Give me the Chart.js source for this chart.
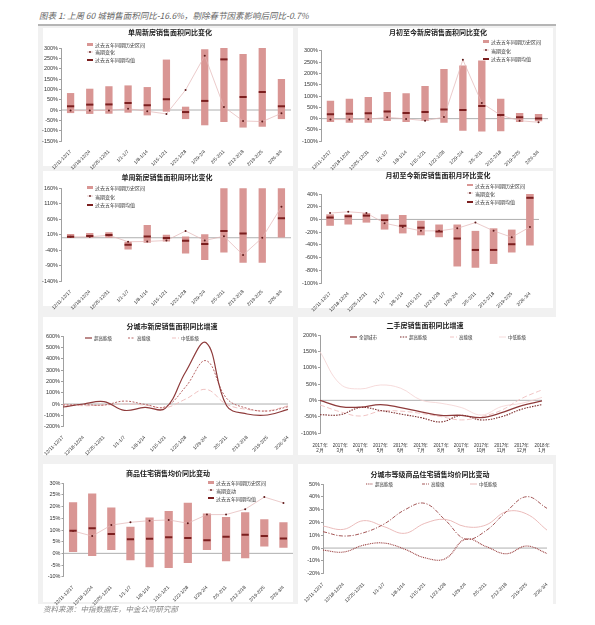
<!DOCTYPE html>
<html>
<head>
<meta charset="utf-8">
<script src="https://cdn.jsdelivr.net/npm/chart.js@4.4.1/dist/chart.umd.min.js"></script>
<style>
body{margin:0;width:595px;height:625px;background:#fff;position:relative;overflow:hidden;font-family:"Noto Sans CJK SC",sans-serif;}
#head{position:absolute;left:39px;top:9px;font-size:8.5px;font-style:italic;color:#666;white-space:nowrap}
#rule{position:absolute;left:38px;top:24px;width:518px;height:1.5px;background:#b5b5b5}
#frame{position:absolute;left:38px;top:26px;width:518px;height:578px;background:#f1f1f1}
#foot{position:absolute;left:43px;top:603px;font-size:7.5px;font-style:italic;color:#888;white-space:nowrap}
.panel{position:absolute;background:#fff}
canvas{position:absolute}
.ttl{position:absolute;font-size:7px;font-weight:bold;color:#222;white-space:nowrap;transform:translate(-50%,-50%)}
.lg{position:absolute;height:6px;display:flex;align-items:center;font-size:5px;color:#333;white-space:nowrap;transform:translateY(-50%)}
.lg.s{font-size:4.5px}
.lg span{margin-left:2px}
.sr{width:6px;height:2.5px;background:#d99694}
.sm{width:6px;height:2px;background:#7b1f1f}
</style>
</head>
<body>
<div id="head">图表 1: 上周 60 城销售面积同比-16.6%，剔除春节因素影响后同比-0.7%</div>
<div id="frame"></div>
<div id="rule"></div>

<div class="panel" style="left:43px;top:28px;width:250px;height:138px"></div>
<div class="panel" style="left:43px;top:171px;width:250px;height:135px"></div>
<div class="panel" style="left:298px;top:28px;width:255px;height:140px"></div>
<div class="panel" style="left:298px;top:171px;width:255px;height:137px"></div>
<div class="panel" style="left:43px;top:317px;width:250px;height:138px"></div>
<div class="panel" style="left:298px;top:317px;width:287px;height:138px"></div>
<div class="panel" style="left:43px;top:464px;width:250px;height:138px"></div>
<div class="panel" style="left:298px;top:464px;width:255px;height:140px"></div>

<canvas id="c1" width="258" height="143" style="left:35px;top:28px"></canvas>
<canvas id="c2" width="258" height="140" style="left:35px;top:171px"></canvas>
<canvas id="c3" width="263" height="143" style="left:290px;top:28px"></canvas>
<canvas id="c4" width="263" height="142" style="left:290px;top:171px"></canvas>
<canvas id="c5" width="258" height="143" style="left:35px;top:317px"></canvas>
<canvas id="c6" width="287" height="138" style="left:298px;top:317px"></canvas>
<canvas id="c7" width="258" height="143" style="left:35px;top:464px"></canvas>
<canvas id="c8" width="263" height="142" style="left:290px;top:464px"></canvas>

<div class="ttl" style="left:170px;top:32px">单周新房销售面积同比变化</div>
<div class="ttl" style="left:167px;top:177px">单周新房销售面积周环比变化</div>
<div class="ttl" style="left:438px;top:32px">月初至今新房销售面积同比变化</div>
<div class="ttl" style="left:438px;top:175px">月初至今新房销售面积月环比变化</div>
<div class="ttl" style="left:172px;top:326px">分城市新房销售面积同比增速</div>
<div class="ttl" style="left:425px;top:325px">二手房销售面积同比增速</div>
<div class="ttl" style="left:168px;top:473px">商品住宅销售均价同比变动</div>
<div class="ttl" style="left:430px;top:474px">分城市等级商品住宅销售均价同比变动</div>

<!-- range legends -->
<div class="lg" style="left:87px;top:44.3px"><i class="sr"></i><span>过去五年同期历史区间</span></div>
<div class="lg" style="left:87px;top:51.7px"><svg width="6" height="4"><line x1="0" y1="2" x2="6" y2="2" stroke="#e3b5b5" stroke-width="0.7"/><circle cx="3" cy="2" r="0.9" fill="#5e1a1a"/></svg><span>当期变化</span></div>
<div class="lg" style="left:87px;top:59.7px"><i class="sm"></i><span>过去五年同期均值</span></div>

<div class="lg" style="left:87px;top:187.3px"><i class="sr"></i><span>过去五年同期历史区间</span></div>
<div class="lg" style="left:87px;top:196px"><svg width="6" height="4"><line x1="0" y1="2" x2="6" y2="2" stroke="#e3b5b5" stroke-width="0.7"/><circle cx="3" cy="2" r="0.9" fill="#5e1a1a"/></svg><span>当期变化</span></div>
<div class="lg" style="left:87px;top:204.7px"><i class="sm"></i><span>过去五年同期均值</span></div>

<div class="lg" style="left:483px;top:41.7px"><i class="sr"></i><span>过去五年同期历史区间</span></div>
<div class="lg" style="left:483px;top:50px"><svg width="6" height="4"><line x1="0" y1="2" x2="6" y2="2" stroke="#e3b5b5" stroke-width="0.7"/><circle cx="3" cy="2" r="0.9" fill="#5e1a1a"/></svg><span>当期变化</span></div>
<div class="lg" style="left:483px;top:58.7px"><i class="sm"></i><span>过去五年同期均值</span></div>

<div class="lg" style="left:467px;top:185px"><i class="sr"></i><span>过去五年同期历史区间</span></div>
<div class="lg" style="left:467px;top:193.3px"><svg width="6" height="4"><line x1="0" y1="2" x2="6" y2="2" stroke="#e3b5b5" stroke-width="0.7"/><circle cx="3" cy="2" r="0.9" fill="#5e1a1a"/></svg><span>当期变化</span></div>
<div class="lg" style="left:467px;top:201.7px"><i class="sm"></i><span>过去五年同期均值</span></div>

<div class="lg" style="left:208px;top:482.7px"><i class="sr"></i><span>过去五年同期历史区间</span></div>
<div class="lg" style="left:208px;top:490.3px"><svg width="6" height="4"><line x1="0" y1="2" x2="6" y2="2" stroke="#e3b5b5" stroke-width="0.7"/><circle cx="3" cy="2" r="0.9" fill="#5e1a1a"/></svg><span>当期变动</span></div>
<div class="lg" style="left:208px;top:498.3px"><i class="sm"></i><span>过去五年同期均值</span></div>

<!-- line legends -->
<div class="lg s" style="left:85px;top:338.3px"><svg width="7" height="4"><line x1="0" y1="2" x2="7" y2="2" stroke="#8e3b3b" stroke-width="1.2"/></svg><span>超高能级</span></div>
<div class="lg s" style="left:128px;top:338.3px"><svg width="7" height="4"><line x1="0" y1="2" x2="7" y2="2" stroke="#b76565" stroke-width="1" stroke-dasharray="2,1.5"/></svg><span>高能级</span></div>
<div class="lg s" style="left:172px;top:338.3px"><svg width="7" height="4"><line x1="0" y1="2" x2="7" y2="2" stroke="#efc1c0" stroke-width="1" stroke-dasharray="4,2"/></svg><span>中低能级</span></div>

<div class="lg s" style="left:350px;top:336.7px"><svg width="7" height="4"><line x1="0" y1="2" x2="7" y2="2" stroke="#8e3b3b" stroke-width="1.3"/></svg><span>全部城市</span></div>
<div class="lg s" style="left:400px;top:336.7px"><svg width="7" height="4"><line x1="0" y1="2" x2="7" y2="2" stroke="#7a2a2a" stroke-width="1.1" stroke-dasharray="1.5,1.2"/></svg><span>超高能级</span></div>
<div class="lg s" style="left:450px;top:336.7px"><svg width="7" height="4"><line x1="0" y1="2" x2="7" y2="2" stroke="#f0c4c4" stroke-width="1" stroke-dasharray="4,2"/></svg><span>高能级</span></div>
<div class="lg s" style="left:499px;top:336.7px"><svg width="7" height="4"><line x1="0" y1="2" x2="7" y2="2" stroke="#f4d2d2" stroke-width="0.8"/></svg><span>中低能级</span></div>

<div class="lg s" style="left:366px;top:484px"><svg width="7" height="4"><line x1="0" y1="2" x2="7" y2="2" stroke="#9c4343" stroke-width="1.1" stroke-dasharray="1,0.8"/></svg><span>超高能级</span></div>
<div class="lg s" style="left:422px;top:484px"><svg width="7" height="4"><line x1="0" y1="2" x2="7" y2="2" stroke="#a45858" stroke-width="1" stroke-dasharray="3,1,1,1"/></svg><span>高能级</span></div>
<div class="lg s" style="left:470px;top:484px"><svg width="7" height="4"><line x1="0" y1="2" x2="7" y2="2" stroke="#ebbcbb" stroke-width="1"/></svg><span>中低能级</span></div>

<div id="foot">资料来源：中指数据库，中金公司研究部</div>

<script>
// category labels
const weekLabels = ['12/11-12/17', '12/18-12/24', '12/25-12/31', '1/1-1/7', '1/8-1/14', '1/15-1/21',
    '1/22-1/28', '1/29-2/4', '2/5-2/11', '2/12-2/18', '2/19-2/25', '2/26-3/4'];
const monthLabels = [['2017年', '2月'], ['2017年', '3月'], ['2017年', '4月'], ['2017年', '5月'],
    ['2017年', '6月'], ['2017年', '7月'], ['2017年', '8月'], ['2017年', '9月'],
    ['2017年', '10月'], ['2017年', '11月'], ['2017年', '12月'], ['2018年', '1月']];

// 单周新房销售面积同比变化 (%)
const wkYoyLow = [-15, -19, -18, -13, -26, -8, -44, -74, -58, -85, -81, -44];
const wkYoyHigh = [82, 103, 115, 119, 111, 244, 16, 294, 330, 271, 330, 150];
const wkYoyMean = [18, 26, 27, 34, 23, 52, -10, 44, 245, 63, 87, 18];
const wkYoyNow = [-3, -3, -2, 6, -6, -19, 97, 263, 15, -53, -56, -16];

// 单周新房销售面积周环比变化 (%)
const wkWowLow = [-1, 0, 0, -38, -16, -12, -51, -72, -48, -81, -81, 1];
const wkWowHigh = [12, 15, 18, -13, 41, 10, 4, 11, 175, 175, 175, 175];
const wkWowMean = [3, 6, 9, -23, 4, -1, -10, -20, 22, 14, null, 63];
const wkWowNow = [3, 3, 8, -13, -12, -9, 22, -9, 5, -56, 0, 100];

// 月初至今新房销售面积同比变化 (%)
const mtdYoyLow = [-15, -18, -18, -10, -15, -10, -18, -53, -57, -56, -15, -12];
const mtdYoyHigh = [79, 88, 96, 118, 112, 144, 219, 235, 257, 88, 25, 21];
const mtdYoyMean = [19, 22, 24, 32, 25, 29, 40, 38, 56, 16, 6, 1];
const mtdYoyNow = [-4, -4, -3, 6, -1, -9, 7, 260, 69, 15, -9, -16];

// 月初至今新房销售面积月环比变化 (%)
const mtdMomLow = [-10, -8, -5, -16, -22, -25, -28, -74, -76, -70, -52, -41];
const mtdMomHigh = [8, 8, 10, 8, 7, -2, -8, -8, -18, -14, -16, 45];
const mtdMomMean = [3, 5, 6, -1, -10, -13, -19, -30, -48, -48, -39, 34];
const mtdMomNow = [10, 12, 10, -6, -12, -18, -18, -14, -5, -18, -28, -12];

// 分城市新房销售面积同比增速 (%)
const newTier1 = [-26, 0, 21, -56, -29, -38, 285, 541, -15, -88, -97, -47];
const newTier2 = [-9, -6, -9, 26, -3, -24, 153, 382, 50, -38, -62, -24];
const newTier3 = [-3, -15, -9, 0, -9, -32, 44, 129, -3, -47, -59, -15];

// 二手房销售面积同比增速 (%)
const usedAll = [0, -19, -21, -13, -22, -35, -46, -46, -53, -38, -16, -2];
const usedTier1 = [-44, -44, -22, -31, -42, -53, -66, -46, -60, -50, -27, -13];
const usedTier2 = [-14, -35, -48, -33, -33, -40, -50, -60, -50, -30, 6, 32];
const usedTier3 = [149, 50, 35, 47, 37, 1, -9, -22, -45, -19, -9, 9];

// 商品住宅销售均价同比变动 (%)
const priceLow = [0.6, -1.1, 1.4, -3, -6, -6.3, -4.1, 1.4, -3.4, -2.1, 2.9, 2.4];
const priceHigh = [21.9, 25.6, 19.6, 11.4, 15.3, 18.1, 21.7, 17.1, 15.6, 17.6, 14.6, 13.3];
const priceMean = [9.7, 10.7, 8.3, 6, 6.3, 6.9, 6.6, 5.6, 7.1, 8, 7.4, 6.4];
const priceNow = [9.6, 7.4, 12.1, 13.3, 14, 14.3, 12.9, 16.6, 16.6, 18.9, 24.1, 21.6];

// 分城市等级商品住宅销售均价同比变动 (%)
const priceTier1 = [-1.6, -3.1, 2.3, 3.9, -0.8, -7.6, -8.3, 7, 1.3, -4.4, 1.6, -4.2];
const priceTier2 = [12.8, 9.4, 12, 18.8, 29.7, 34.9, 21.9, 7, 13.5, 28.4, 40.1, 31];
const priceTier3 = [17.2, 14.6, 21.4, 16.7, 11.5, 19.3, 22.4, 16.7, 18, 28.4, 26.6, 14];

const tickFont = 'Liberation Sans';

// horizontal line at 0 through the y scale
const zeroLine = {
    id: 'zeroLine',
    beforeDatasetsDraw(chart) {
        const y = chart.scales.y.getPixelForValue(0);
        const { left, right } = chart.chartArea;
        const ctx = chart.ctx;
        ctx.save();
        ctx.strokeStyle = '#9a9a9a';
        ctx.lineWidth = 0.8;
        ctx.beginPath();
        ctx.moveTo(left, y);
        ctx.lineTo(right, y);
        ctx.stroke();
        ctx.restore();
    }
};

function baseOptions(lay, yMin, yMax, step, offset, xTicks) {
    return {
        responsive: false,
        animation: false,
        layout: { autoPadding: false, padding: { left: 0, right: lay.r, top: lay.t, bottom: 0 } },
        plugins: { legend: { display: false }, title: { display: false }, tooltip: { enabled: false } },
        scales: {
            x: {
                offset: offset,
                grid: { display: false },
                border: { display: false },
                ticks: Object.assign({
                    autoSkip: false, maxRotation: 45, minRotation: 45, padding: 0,
                    font: { size: 4.8, family: tickFont }, color: '#333'
                }, xTicks || {}),
                afterFit: s => { s.height = lay.b; }
            },
            y: {
                min: yMin,
                max: yMax,
                ticks: { stepSize: step, padding: 1, font: { size: 5.5, family: tickFont }, color: '#333',
                    callback: v => v + '%' },
                grid: { drawOnChartArea: false, tickLength: 2, color: '#888', lineWidth: 0.8 },
                border: { color: '#888', width: 0.8 },
                afterFit: s => { s.width = lay.l; }
            }
        }
    };
}

function rangeChart(id, low, high, mean, now, yMin, yMax, step, lay, barPct) {
    new Chart(document.getElementById(id), {
        type: 'bar',
        data: {
            labels: weekLabels,
            datasets: [
                { type: 'line', data: mean, showLine: false, pointStyle: 'line', pointRadius: 3.6,
                  pointBorderWidth: 2, pointBorderColor: '#7b1f1f', order: 1 },
                { type: 'line', data: now, borderColor: '#e3b5b5', borderWidth: 0.7, tension: 0,
                  pointRadius: 1, pointBorderWidth: 0, pointBackgroundColor: '#5e1a1a', order: 2 },
                { type: 'bar', data: low.map((v, i) => [v, high[i]]), backgroundColor: '#d99694',
                  categoryPercentage: 1, barPercentage: barPct || 0.4, order: 3 }
            ]
        },
        options: baseOptions(lay, yMin, yMax, step, true),
        plugins: [zeroLine]
    });
}

function lineChart(id, labels, series, yMin, yMax, step, lay, xTicks) {
    new Chart(document.getElementById(id), {
        type: 'line',
        data: {
            labels: labels,
            datasets: series.map(s => ({
                data: s.data, borderColor: s.color, borderWidth: s.width, borderDash: s.dash || [],
                pointRadius: 0, tension: 0.4, fill: false
            }))
        },
        options: baseOptions(lay, yMin, yMax, step, false, xTicks),
        plugins: [zeroLine]
    });
}

rangeChart('c1', wkYoyLow, wkYoyHigh, wkYoyMean, wkYoyNow, -150, 300, 50, { l: 26, r: 2, t: 20, b: 30 }, 0.38);
rangeChart('c2', wkWowLow, wkWowHigh, wkWowMean, wkWowNow, -140, 160, 50, { l: 26, r: 2, t: 17.3, b: 30 }, 0.38);
rangeChart('c3', mtdYoyLow, mtdYoyHigh, mtdYoyMean, mtdYoyNow, -100, 300, 50, { l: 31, r: 5, t: 22.7, b: 29.7 }, 0.39);
rangeChart('c4', mtdMomLow, mtdMomHigh, mtdMomMean, mtdMomNow, -100, 40, 20, { l: 31, r: 14, t: 23, b: 30 }, 0.42);
rangeChart('c7', priceLow, priceHigh, priceMean, priceNow, -10, 30, 5, { l: 28.5, r: 0, t: 19.3, b: 30.3 }, 0.43);

lineChart('c5', weekLabels, [
    { data: newTier1, color: '#8e3b3b', width: 1.2 },
    { data: newTier2, color: '#b76565', width: 1, dash: [2, 1.5] },
    { data: newTier3, color: '#efc1c0', width: 1, dash: [5, 2.5] }
], -200, 600, 100, { l: 28, r: 5, t: 19, b: 33.3 });

lineChart('c6', monthLabels, [
    { data: usedAll, color: '#8e3b3b', width: 1.3 },
    { data: usedTier1, color: '#7a2a2a', width: 1.1, dash: [1.5, 1.2] },
    { data: usedTier2, color: '#f0c4c4', width: 1, dash: [5, 2.5] },
    { data: usedTier3, color: '#f4d2d2', width: 0.8 }
], -100, 200, 50, { l: 22, r: 43, t: 18, b: 22 }, { maxRotation: 0, minRotation: 0, padding: 2, font: { size: 4.5, family: tickFont } });

lineChart('c8', weekLabels, [
    { data: priceTier1, color: '#9c4343', width: 1.1, dash: [1, 0.8] },
    { data: priceTier2, color: '#a45858', width: 1, dash: [4, 1.5, 1.2, 1.5] },
    { data: priceTier3, color: '#ebbcbb', width: 1 }
], -20, 50, 10, { l: 33, r: 6, t: 20, b: 32.3 });
</script>
</body>
</html>
